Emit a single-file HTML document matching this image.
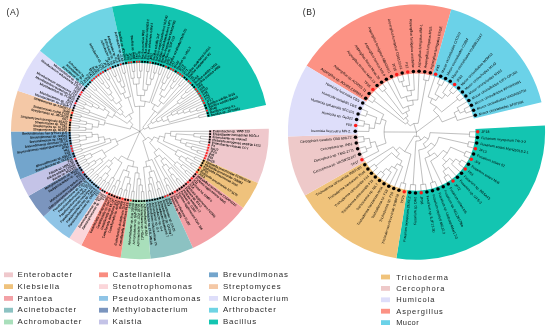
<!DOCTYPE html>
<html><head><meta charset="utf-8"><title>Figure</title>
<style>html,body{margin:0;padding:0;background:#fff;}svg{display:block;font-family:"Liberation Sans", sans-serif;will-change:transform;}</style></head><body>
<svg width="550" height="332" viewBox="0 0 550 332">
<rect width="550" height="332" fill="#fff"/>
<g transform="translate(-1.26 0) scale(1.009 1)">
<path d="M267.67 128.72A127.8 127.8 0 0 1 256.83 182.97L202.48 159A68.4 68.4 0 0 0 208.28 129.97Z" fill="#efc8cc"/>
<path d="M256.83 182.97A127.8 127.8 0 0 1 242.23 207.96L194.67 172.37A68.4 68.4 0 0 0 202.48 159Z" fill="#efc27c"/>
<path d="M242.23 207.96A127.8 127.8 0 0 1 192.49 247.88L168.05 193.74A68.4 68.4 0 0 0 194.67 172.37Z" fill="#f3a1a6"/>
<path d="M192.49 247.88A127.8 127.8 0 0 1 150.37 258.77L145.5 199.57A68.4 68.4 0 0 0 168.05 193.74Z" fill="#8cc2c2"/>
<path d="M150.37 258.77A127.8 127.8 0 0 1 120.79 257.76L129.67 199.03A68.4 68.4 0 0 0 145.5 199.57Z" fill="#a9dfbb"/>
<path d="M120.79 257.76A127.8 127.8 0 0 1 81.88 245.27L108.85 192.34A68.4 68.4 0 0 0 129.67 199.03Z" fill="#f98c80"/>
<path d="M81.88 245.27A127.8 127.8 0 0 1 69.92 238.34L102.45 188.63A68.4 68.4 0 0 0 108.85 192.34Z" fill="#fbd6da"/>
<path d="M69.92 238.34A127.8 127.8 0 0 1 44.48 216.42L88.83 176.9A68.4 68.4 0 0 0 102.45 188.63Z" fill="#8fc4e6"/>
<path d="M44.48 216.42A127.8 127.8 0 0 1 29.56 195.88L80.84 165.91A68.4 68.4 0 0 0 88.83 176.9Z" fill="#7b95be"/>
<path d="M29.56 195.88A127.8 127.8 0 0 1 21.41 179.27L76.48 157.02A68.4 68.4 0 0 0 80.84 165.91Z" fill="#c4c3e7"/>
<path d="M21.41 179.27A127.8 127.8 0 0 1 12.1 131.4L71.5 131.4A68.4 68.4 0 0 0 76.48 157.02Z" fill="#73a5cc"/>
<path d="M12.1 131.4A127.8 127.8 0 0 1 18.78 90.64L75.07 109.58A68.4 68.4 0 0 0 71.5 131.4Z" fill="#f4c8a6"/>
<path d="M18.78 90.64A127.8 127.8 0 0 1 40.86 50.63L86.89 88.17A68.4 68.4 0 0 0 75.07 109.58Z" fill="#dedefa"/>
<path d="M40.86 50.63A127.8 127.8 0 0 1 112.24 6.63L125.1 64.62A68.4 68.4 0 0 0 86.89 88.17Z" fill="#6fd4e4"/>
<path d="M112.24 6.63A127.8 127.8 0 0 1 264.95 105.05L206.83 117.3A68.4 68.4 0 0 0 125.1 64.62Z" fill="#13c5b1"/>
<path d="M139.9 131.4L145.67 139.38M147.93 137.1A9.85 9.85 0 0 1 142.79 140.82M147.93 137.1L152.04 140.01M153.74 136.86A14.88 14.88 0 0 1 149.63 142.66M153.74 136.86L158.5 138.74M159.35 136.04A20 20 0 0 1 157.28 141.29M159.35 136.04L164.43 137.25M165.05 133.23A25.21 25.21 0 0 1 163.17 141.12M165.05 133.23L170.36 133.62M170.44 131.37A30.54 30.54 0 0 1 170.12 135.86M170.44 131.37L208.5 131.32M170.12 135.86L175.52 136.65M175.82 133.86A36.01 36.01 0 0 1 175 139.42M175.82 133.86L193.42 135.06M193.5 133.47A53.64 53.64 0 0 1 193.28 136.65M193.5 133.47L208.45 134.04M193.28 136.65L199.91 137.3M200.02 136.11A60.3 60.3 0 0 1 199.78 138.49M200.02 136.11L208.29 136.76M199.78 138.49L208.02 139.47M175 139.42L180.49 140.67M180.88 138.75A41.64 41.64 0 0 1 180.01 142.57M180.88 138.75L199.25 142.04M199.45 140.86A60.3 60.3 0 0 1 199.03 143.22M199.45 140.86L207.65 142.16M199.03 143.22L207.17 144.84M180.01 142.57L185.65 144.14M186.06 142.54A47.49 47.49 0 0 1 185.18 145.72M186.06 142.54L206.58 147.5M185.18 145.72L191.04 147.57M191.5 146.05A53.64 53.64 0 0 1 190.54 149.09M191.5 146.05L205.89 150.13M190.54 149.09L196.83 151.29M197.21 150.15A60.3 60.3 0 0 1 196.42 152.41M197.21 150.15L205.1 152.73M196.42 152.41L204.2 155.3M163.17 141.12L203.2 157.83M157.28 141.29L176.09 151.98M177.33 149.63A41.64 41.64 0 0 1 174.71 154.25M177.33 149.63L194.11 157.8M194.6 156.77A60.3 60.3 0 0 1 193.6 158.82M194.6 156.77L202.13 160.26M193.6 158.82L201 162.6M174.71 154.25L179.6 157.46M180.67 155.74A47.49 47.49 0 0 1 178.45 159.12M180.67 155.74L185.96 158.9M186.72 157.58A53.64 53.64 0 0 1 185.16 160.2M186.72 157.58L199.77 164.88M185.16 160.2L190.78 163.77M191.38 162.8A60.3 60.3 0 0 1 190.16 164.73M191.38 162.8L198.46 167.12M190.16 164.73L197.07 169.31M178.45 159.12L195.6 171.45M149.63 142.66L156.38 150.48M158.61 148.3A25.21 25.21 0 0 1 153.89 152.37M158.61 148.3L175.14 163.22M176.5 161.66A47.49 47.49 0 0 1 173.72 164.73M176.5 161.66L181.24 165.58M182.22 164.36A53.64 53.64 0 0 1 180.23 166.77M182.22 164.36L194.02 173.55M180.23 166.77L185.24 171.16M186 170.27A60.3 60.3 0 0 1 184.46 172.03M186 170.27L192.35 175.62M184.46 172.03L190.59 177.62M173.72 164.73L188.76 179.55M153.89 152.37L156.85 156.81M159.22 155.06A30.54 30.54 0 0 1 154.33 158.32M159.22 155.06L162.67 159.29M164.55 157.65A36.01 36.01 0 0 1 160.69 160.79M164.55 157.65L186.86 181.41M160.69 160.79L163.95 165.39M165.8 164A41.64 41.64 0 0 1 162.01 166.68M165.8 164L169.44 168.58M171.04 167.25A47.49 47.49 0 0 1 167.79 169.83M171.04 167.25L184.88 183.19M167.79 169.83L171.41 174.81M172.66 173.88A53.64 53.64 0 0 1 170.13 175.71M172.66 173.88L176.72 179.15M177.64 178.43A60.3 60.3 0 0 1 175.79 179.86M177.64 178.43L182.84 184.9M175.79 179.86L180.73 186.53M170.13 175.71L178.56 188.07M162.01 166.68L176.33 189.52M154.33 158.32L165.24 178.68M166.61 177.92A53.64 53.64 0 0 1 163.85 179.4M166.61 177.92L174.05 190.89M163.85 179.4L166.83 185.35M167.87 184.82A60.3 60.3 0 0 1 165.78 185.87M167.87 184.82L171.72 192.17M165.78 185.87L169.34 193.36M142.79 140.82L148.86 160.6M151.94 159.47A30.54 30.54 0 0 1 145.67 161.39M151.94 159.47L166.94 194.45M145.67 161.39L146.7 166.76M149.82 166.01A36.01 36.01 0 0 1 143.53 167.22M149.82 166.01L151.37 171.42M153.73 170.67A41.64 41.64 0 0 1 148.98 172.03M153.73 170.67L157.72 182M159.15 181.47A53.64 53.64 0 0 1 156.27 182.48M159.15 181.47L164.52 195.43M156.27 182.48L158.3 188.83M159.39 188.47A60.3 60.3 0 0 1 157.21 189.16M159.39 188.47L162.07 196.32M157.21 189.16L159.59 197.11M148.98 172.03L150.25 177.74M151.79 177.37A47.49 47.49 0 0 1 148.71 178.06M151.79 177.37L157.08 197.81M148.71 178.06L149.85 184.11M151.35 183.81A53.64 53.64 0 0 1 148.34 184.37M151.35 183.81L154.54 198.42M148.34 184.37L149.39 190.95M150.52 190.76A60.3 60.3 0 0 1 148.26 191.12M150.52 190.76L151.98 198.93M148.26 191.12L149.41 199.34M143.53 167.22L146.82 199.65M139.9 131.4L127.46 159.29M133.93 161.35A30.54 30.54 0 0 1 121.61 155.86M133.93 161.35L132.86 166.71M137.54 167.33A36.01 36.01 0 0 1 128.29 165.48M137.54 167.33L137.18 172.95M139.09 173.03A41.64 41.64 0 0 1 135.27 172.78M139.09 173.03L138.97 178.88M140.58 178.88A47.49 47.49 0 0 1 137.37 178.82M140.58 178.88L140.67 185.04M142.22 184.99A53.64 53.64 0 0 1 139.11 185.04M142.22 184.99L142.51 191.64M143.68 191.58A60.3 60.3 0 0 1 141.35 191.68M143.68 191.58L144.2 199.87M141.35 191.68L141.55 199.98M139.11 185.04L138.89 199.99M137.37 178.82L136.24 199.9M135.27 172.78L133.2 191.33M134.36 191.45A60.3 60.3 0 0 1 132.04 191.19M134.36 191.45L133.59 199.71M132.04 191.19L130.96 199.41M128.29 165.48L126.48 170.81M129.38 171.69A41.64 41.64 0 0 1 123.65 169.73M129.38 171.69L127.9 177.34M130.45 177.94A47.49 47.49 0 0 1 125.38 176.61M130.45 177.94L129.23 183.97M130.82 184.27A53.64 53.64 0 0 1 127.65 183.62M130.82 184.27L128.28 199.01M127.65 183.62L126.13 190.11M127.31 190.37A60.3 60.3 0 0 1 124.95 189.82M127.31 190.37L125.58 198.49M124.95 189.82L122.9 197.86M125.38 176.61L121.47 188.81M122.62 189.17A60.3 60.3 0 0 1 120.32 188.43M122.62 189.17L120.24 197.12M120.32 188.43L117.62 196.28M123.65 169.73L118.96 180.79M120.46 181.39A53.64 53.64 0 0 1 117.49 180.13M120.46 181.39L115.04 195.34M117.49 180.13L114.7 186.18M115.81 186.68A60.3 60.3 0 0 1 113.61 185.67M115.81 186.68L112.49 194.29M113.61 185.67L109.99 193.14M121.61 155.86L118.34 160.24M122.12 162.71A36.01 36.01 0 0 1 114.89 157.31M122.12 162.71L113.42 178.05M114.69 178.75A53.64 53.64 0 0 1 112.17 177.32M114.69 178.75L107.66 191.95M112.17 177.32L108.72 183.02M109.66 183.57A60.3 60.3 0 0 1 107.8 182.45M109.66 183.57L105.5 190.75M107.8 182.45L103.38 189.47M114.89 157.31L110.98 161.36M112.72 162.94A41.64 41.64 0 0 1 109.34 159.68M112.72 162.94L108.9 167.37M110.98 169.07A47.49 47.49 0 0 1 106.92 165.57M110.98 169.07L107.23 173.95M108.86 175.15A53.64 53.64 0 0 1 105.66 172.69M108.86 175.15L105.01 180.58M105.94 181.23A60.3 60.3 0 0 1 104.09 179.91M105.94 181.23L101.26 188.08M104.09 179.91L99.16 186.59M105.66 172.69L101.4 177.81M102.29 178.53A60.3 60.3 0 0 1 100.54 177.08M102.29 178.53L97.11 185.02M100.54 177.08L95.12 183.37M106.92 165.57L98.02 174.79M98.85 175.57A60.3 60.3 0 0 1 97.21 173.99M98.85 175.57L93.2 181.65M97.21 173.99L91.34 179.85M109.34 159.68L89.55 177.99M139.9 131.4L116.91 141.75M118.4 144.58A25.21 25.21 0 0 1 115.79 138.76M118.4 144.58L104.4 153.16M106.58 156.37A41.64 41.64 0 0 1 102.52 149.75M106.58 156.37L101.9 159.88M103.22 161.55A47.49 47.49 0 0 1 100.67 158.15M103.22 161.55L93.32 169.69M94.09 170.61A60.3 60.3 0 0 1 92.56 168.76M94.09 170.61L87.78 176.01M92.56 168.76L86.05 173.9M100.67 158.15L95.58 161.62M96.5 162.93A53.64 53.64 0 0 1 94.7 160.28M96.5 162.93L84.4 171.72M94.7 160.28L89.09 163.87M89.74 164.88A60.3 60.3 0 0 1 88.45 162.85M89.74 164.88L82.84 169.48M88.45 162.85L81.37 167.18M102.52 149.75L91.75 155.04M92.64 156.77A53.64 53.64 0 0 1 90.92 153.28M92.64 156.77L86.77 159.92M87.29 160.88A60.3 60.3 0 0 1 86.26 158.95M87.29 160.88L80.05 164.93M86.26 158.95L78.88 162.74M90.92 153.28L84.84 156M85.3 156.99A60.3 60.3 0 0 1 84.41 155M85.3 156.99L77.78 160.51M84.41 155L76.77 158.25M115.79 138.76L110.69 140.32M111.37 142.3A30.54 30.54 0 0 1 110.15 138.3M111.37 142.3L75.81 155.87M110.15 138.3L104.83 139.54M105.58 142.29A36.01 36.01 0 0 1 104.29 136.74M105.58 142.29L82.42 149.63M82.78 150.73A60.3 60.3 0 0 1 82.08 148.53M82.78 150.73L74.92 153.39M82.08 148.53L74.12 150.88M104.29 136.74L98.72 137.57M99.36 140.91A41.64 41.64 0 0 1 98.36 134.2M99.36 140.91L81.19 145.17M81.47 146.29A60.3 60.3 0 0 1 80.94 144.04M81.47 146.29L73.43 148.34M80.94 144.04L72.82 145.78M98.36 134.2L92.52 134.59M92.73 136.86A47.49 47.49 0 0 1 92.42 132.31M92.73 136.86L86.61 137.57M86.89 139.61A53.64 53.64 0 0 1 86.42 135.52M86.89 139.61L80.31 140.63M80.5 141.77A60.3 60.3 0 0 1 80.14 139.48M80.5 141.77L72.32 143.19M80.14 139.48L71.92 140.59M86.42 135.52L79.78 136.03M79.88 137.18A60.3 60.3 0 0 1 79.7 134.87M79.88 137.18L71.62 137.98M79.7 134.87L71.41 135.35M92.42 132.31L71.31 132.72M139.9 131.4L131.33 126.55M130.34 129.05A9.85 9.85 0 0 1 132.95 124.42M130.34 129.05L104.94 122.8M104.45 125.1A36.01 36.01 0 0 1 105.57 120.53M104.45 125.1L98.91 124.12M98.47 127.28A41.64 41.64 0 0 1 99.58 121M98.47 127.28L92.65 126.7M92.46 129.26A47.49 47.49 0 0 1 92.97 124.15M92.46 129.26L86.31 128.98M86.27 130.43A53.64 53.64 0 0 1 86.4 127.53M86.27 130.43L71.31 130.16M86.4 127.53L79.76 127.05M79.69 128.14A60.3 60.3 0 0 1 79.84 125.97M79.69 128.14L71.4 127.69M79.84 125.97L71.58 125.22M92.97 124.15L86.89 123.21M86.69 124.65A53.64 53.64 0 0 1 87.13 121.78M86.69 124.65L71.85 122.76M87.13 121.78L80.58 120.58M80.39 121.66A60.3 60.3 0 0 1 80.78 119.52M80.39 121.66L72.2 120.31M80.78 119.52L72.65 117.88M99.58 121L81.51 116.34M81.25 117.39A60.3 60.3 0 0 1 81.79 115.29M81.25 117.39L73.18 115.46M81.79 115.29L73.79 113.07M105.57 120.53L74.5 110.7M132.95 124.42L129.4 120.85M127.35 123.4A14.88 14.88 0 0 1 131.96 118.81M127.35 123.4L114.15 114.97M112.66 117.58A30.54 30.54 0 0 1 115.89 112.53M112.66 117.58L107.79 115.11M106.33 118.39A36.01 36.01 0 0 1 109.58 111.98M106.33 118.39L89.88 112.02M89.38 113.38A53.64 53.64 0 0 1 90.42 110.68M89.38 113.38L75.29 108.35M90.42 110.68L84.28 108.11M83.87 109.11A60.3 60.3 0 0 1 84.71 107.11M83.87 109.11L76.16 106.05M84.71 107.11L77.11 103.77M109.58 111.98L104.84 108.95M103.91 110.46A41.64 41.64 0 0 1 105.83 107.47M103.91 110.46L98.85 107.52M98.12 108.83A47.49 47.49 0 0 1 99.63 106.24M98.12 108.83L92.71 105.9M92.04 107.18A53.64 53.64 0 0 1 93.41 104.64M92.04 107.18L86.1 104.17M85.61 105.15A60.3 60.3 0 0 1 86.59 103.21M85.61 105.15L78.14 101.53M86.59 103.21L79.26 99.33M93.41 104.64L80.45 97.17M99.63 106.24L81.72 95.06M105.83 107.47L90.55 96.74M89.94 97.64A60.3 60.3 0 0 1 91.18 95.86M89.94 97.64L83.06 92.99M91.18 95.86L84.48 90.97M115.89 112.53L85.97 89.01M131.96 118.81L129.23 114.48M125.69 117.33A20 20 0 0 1 133.33 112.51M125.69 117.33L121.98 113.66M120.68 115.08A25.21 25.21 0 0 1 123.39 112.34M120.68 115.08L87.6 87.01M123.39 112.34L119.9 108.32M117.82 110.3A30.54 30.54 0 0 1 122.15 106.54M117.82 110.3L96.31 89.73M95.5 90.6A60.3 60.3 0 0 1 97.14 88.89M95.5 90.6L89.39 84.98M97.14 88.89L91.25 83.03M122.15 106.54L118.98 102.1M116.51 104.03A36.01 36.01 0 0 1 121.61 100.38M116.51 104.03L112.85 99.75M111.55 100.91A41.64 41.64 0 0 1 114.19 98.65M111.55 100.91L93.19 81.16M114.19 98.65L110.58 94.05M108.96 95.38A47.49 47.49 0 0 1 112.26 92.79M108.96 95.38L95.2 79.36M112.26 92.79L108.68 87.78M107.41 88.72A53.64 53.64 0 0 1 109.98 86.88M107.41 88.72L103.37 83.42M102.44 84.15A60.3 60.3 0 0 1 104.32 82.71M102.44 84.15L97.28 77.65M104.32 82.71L99.43 76.01M109.98 86.88L101.64 74.46M121.61 100.38L109.27 79.46M108.26 80.07A60.3 60.3 0 0 1 110.3 78.86M108.26 80.07L103.9 73M110.3 78.86L106.23 71.63M133.33 112.51L128.07 97.39M125.47 98.41A36.01 36.01 0 0 1 130.73 96.58M125.47 98.41L123.21 93.25M120.9 94.35A41.64 41.64 0 0 1 125.59 92.3M120.9 94.35L108.6 70.36M125.59 92.3L123.58 86.81M122.05 87.4A47.49 47.49 0 0 1 125.12 86.27M122.05 87.4L119.74 81.69M118.28 82.31A53.64 53.64 0 0 1 121.22 81.12M118.28 82.31L115.6 76.21M114.52 76.7A60.3 60.3 0 0 1 116.69 75.74M114.52 76.7L111.03 69.17M116.69 75.74L113.5 68.09M121.22 81.12L116 67.1M125.12 86.27L118.55 66.21M130.73 96.58L124.54 73.09M123.4 73.4A60.3 60.3 0 0 1 125.69 72.8M123.4 73.4L121.13 65.42M125.69 72.8L123.74 64.73M139.9 131.4L139.57 106.19M134.92 106.68A25.21 25.21 0 0 1 144.24 106.56M134.92 106.68L126.35 64.15M144.24 106.56L145.16 101.31M140.64 100.87A30.54 30.54 0 0 1 149.56 102.43M140.64 100.87L140.77 95.4M137.25 95.49A36.01 36.01 0 0 1 144.27 95.66M137.25 95.49L136.41 84.04M133.68 84.32A47.49 47.49 0 0 1 139.16 83.92M133.68 84.32L132.87 78.22M131.34 78.45A53.64 53.64 0 0 1 134.41 78.04M131.34 78.45L128.95 63.68M134.41 78.04L133.73 71.42M132.58 71.55A60.3 60.3 0 0 1 134.89 71.31M132.58 71.55L131.57 63.31M134.89 71.31L134.2 63.04M139.16 83.92L139.06 77.77M137.51 77.81A53.64 53.64 0 0 1 140.61 77.76M137.51 77.81L136.84 62.87M140.61 77.76L140.7 71.1M139.54 71.1A60.3 60.3 0 0 1 141.86 71.13M139.54 71.1L139.49 62.8M141.86 71.13L142.13 62.84M144.27 95.66L144.96 90.07M142.86 89.87A41.64 41.64 0 0 1 147.04 90.38M142.86 89.87L144.77 62.97M147.04 90.38L148.04 84.62M146.01 84.31A47.49 47.49 0 0 1 150.06 85.01M146.01 84.31L147.65 71.6M146.5 71.46A60.3 60.3 0 0 1 148.81 71.76M146.5 71.46L147.41 63.21M148.81 71.76L150.03 63.55M150.06 85.01L151.38 79M149.86 78.69A53.64 53.64 0 0 1 152.89 79.36M149.86 78.69L152.64 63.99M152.89 79.36L154.51 72.89M153.37 72.62A60.3 60.3 0 0 1 155.63 73.19M153.37 72.62L155.23 64.53M155.63 73.19L157.8 65.18M149.56 102.43L158.97 74.19M157.86 73.84A60.3 60.3 0 0 1 160.07 74.57M157.86 73.84L160.34 65.91M160.07 74.57L162.85 66.75M139.9 131.4L143.65 128.26M142.8 127.46A4.89 4.89 0 0 1 144.29 129.24M142.8 127.46L154.87 111.11M152.11 109.34A25.21 25.21 0 0 1 157.37 113.22M152.11 109.34L154.69 104.68M151.22 103.03A30.54 30.54 0 0 1 157.93 106.75M151.22 103.03L165.32 67.68M157.93 106.75L161.16 102.34M158.89 100.81A36.01 36.01 0 0 1 163.3 104.04M158.89 100.81L161.86 96.03M159.51 94.67A41.64 41.64 0 0 1 164.12 97.53M159.51 94.67L162.27 89.51M160.43 88.58A47.49 47.49 0 0 1 164.07 90.52M160.43 88.58L163.09 83.03M161.68 82.38A53.64 53.64 0 0 1 164.48 83.72M161.68 82.38L167.76 68.71M164.48 83.72L167.53 77.8M166.5 77.28A60.3 60.3 0 0 1 168.56 78.35M166.5 77.28L170.16 69.83M168.56 78.35L172.51 71.04M164.07 90.52L174.81 72.35M164.12 97.53L171.1 87.76M169.82 86.88A53.64 53.64 0 0 1 172.35 88.68M169.82 86.88L173.54 81.35M172.57 80.71A60.3 60.3 0 0 1 174.5 82.01M172.57 80.71L177.06 73.74M174.5 82.01L179.26 75.21M172.35 88.68L181.39 76.77M163.3 104.04L179.09 85.57M178.2 84.82A60.3 60.3 0 0 1 179.97 86.33M178.2 84.82L183.47 78.41M179.97 86.33L185.48 80.13M157.37 113.22L187.42 81.93M144.29 129.24L148.74 127.06M147.64 125.31A9.85 9.85 0 0 1 149.45 129M147.64 125.31L151.59 122.19M150.62 121.07A14.88 14.88 0 0 1 152.45 123.41M150.62 121.07L189.3 83.8M152.45 123.41L156.77 120.66M155.86 119.35A20 20 0 0 1 157.57 122.03M155.86 119.35L177.81 102.8M176.82 101.54A47.49 47.49 0 0 1 178.75 104.09M176.82 101.54L181.61 97.66M180.61 96.47A53.64 53.64 0 0 1 182.56 98.88M180.61 96.47L185.67 92.14M184.9 91.26A60.3 60.3 0 0 1 186.42 93.03M184.9 91.26L191.09 85.74M186.42 93.03L192.82 87.74M182.56 98.88L194.46 89.82M178.75 104.09L196.02 91.95M157.57 122.03L162.18 119.59M161.07 117.71A25.21 25.21 0 0 1 163.11 121.56M161.07 117.71L197.5 94.15M163.11 121.56L168.02 119.47M166.73 116.81A30.54 30.54 0 0 1 169.04 122.25M166.73 116.81L171.53 114.2M170.86 113.03A36.01 36.01 0 0 1 172.15 115.39M170.86 113.03L198.9 96.39M172.15 115.39L177.19 112.89M176.5 111.55A41.64 41.64 0 0 1 177.84 114.25M176.5 111.55L200.2 98.7M177.84 114.25L183.17 111.84M182.48 110.39A47.49 47.49 0 0 1 183.8 113.31M182.48 110.39L201.42 101.04M183.8 113.31L189.5 110.96M188.88 109.54A53.64 53.64 0 0 1 190.07 112.4M188.88 109.54L202.54 103.44M190.07 112.4L196.29 110.05M195.87 108.96A60.3 60.3 0 0 1 196.7 111.14M195.87 108.96L203.57 105.88M196.7 111.14L204.51 108.35M169.04 122.25L205.35 110.86M149.45 129L198.38 116.7M198.09 115.57A60.3 60.3 0 0 1 198.65 117.83M198.09 115.57L206.1 113.4M198.65 117.83L206.74 115.96" fill="none" stroke="#3a3a3a" stroke-width="0.3"/>
<g fill="#000"><rect x="208.67" y="130.4" width="1.85" height="1.85" transform="rotate(-0.06 209.6 131.32)"/><rect x="208.62" y="133.16" width="1.85" height="1.85" transform="rotate(2.21 209.55 134.09)"/><rect x="208.46" y="135.92" width="1.85" height="1.85" transform="rotate(4.48 209.39 136.85)"/><rect x="208.19" y="138.67" width="1.85" height="1.85" transform="rotate(6.75 209.12 139.6)"/><rect x="207.81" y="141.41" width="1.85" height="1.85" transform="rotate(9.03 208.74 142.34)"/><rect x="202.2" y="159.8" width="1.85" height="1.85" transform="rotate(24.88 203.13 160.73)"/><rect x="201.05" y="162.17" width="1.85" height="1.85" transform="rotate(27.05 201.98 163.1)"/><rect x="199.81" y="164.5" width="1.85" height="1.85" transform="rotate(29.22 200.73 165.42)"/><rect x="197.06" y="169" width="1.85" height="1.85" transform="rotate(33.55 197.99 169.92)"/><rect x="193.97" y="173.3" width="1.85" height="1.85" transform="rotate(37.91 194.89 174.23)"/><rect x="192.26" y="175.4" width="1.85" height="1.85" transform="rotate(40.13 193.19 176.33)"/><rect x="188.62" y="179.4" width="1.85" height="1.85" transform="rotate(44.58 189.54 180.32)"/><rect x="184.68" y="183.1" width="1.85" height="1.85" transform="rotate(49.03 185.6 184.02)"/><rect x="182.6" y="184.83" width="1.85" height="1.85" transform="rotate(51.25 183.53 185.76)"/><rect x="180.46" y="186.48" width="1.85" height="1.85" transform="rotate(53.47 181.39 187.41)"/><rect x="178.26" y="188.05" width="1.85" height="1.85" transform="rotate(55.7 179.18 188.98)"/><rect x="175.99" y="189.53" width="1.85" height="1.85" transform="rotate(57.92 176.92 190.46)"/><rect x="171.3" y="192.22" width="1.85" height="1.85" transform="rotate(62.37 172.23 193.15)"/><rect x="168.88" y="193.43" width="1.85" height="1.85" transform="rotate(64.59 169.81 194.36)"/><rect x="161.5" y="196.43" width="1.85" height="1.85" transform="rotate(71.14 162.43 197.36)"/><rect x="158.98" y="197.24" width="1.85" height="1.85" transform="rotate(73.32 159.9 198.17)"/><rect x="156.43" y="197.95" width="1.85" height="1.85" transform="rotate(75.5 157.35 198.88)"/><rect x="153.85" y="198.57" width="1.85" height="1.85" transform="rotate(77.68 154.77 199.49)"/><rect x="151.25" y="199.09" width="1.85" height="1.85" transform="rotate(79.86 152.18 200.01)"/><rect x="148.64" y="199.5" width="1.85" height="1.85" transform="rotate(82.03 149.56 200.43)"/><rect x="146.01" y="199.82" width="1.85" height="1.85" transform="rotate(84.21 146.93 200.74)"/><rect x="143.34" y="200.04" width="1.85" height="1.85" transform="rotate(86.41 144.27 200.96)"/><rect x="140.65" y="200.15" width="1.85" height="1.85" transform="rotate(88.62 141.57 201.08)"/><rect x="137.95" y="200.17" width="1.85" height="1.85" transform="rotate(90.84 138.88 201.09)"/><rect x="135.26" y="200.08" width="1.85" height="1.85" transform="rotate(93.06 136.18 201)"/><rect x="132.57" y="199.88" width="1.85" height="1.85" transform="rotate(95.27 133.49 200.8)"/><rect x="127.17" y="199.17" width="1.85" height="1.85" transform="rotate(99.75 128.1 200.09)"/><rect x="124.42" y="198.64" width="1.85" height="1.85" transform="rotate(102.05 125.35 199.56)"/><rect x="119" y="197.25" width="1.85" height="1.85" transform="rotate(106.65 119.93 198.18)"/><rect x="116.34" y="196.4" width="1.85" height="1.85" transform="rotate(108.95 117.27 197.32)"/><rect x="113.71" y="195.44" width="1.85" height="1.85" transform="rotate(111.25 114.64 196.36)"/><rect x="111.13" y="194.37" width="1.85" height="1.85" transform="rotate(113.55 112.05 195.29)"/><rect x="108.58" y="193.2" width="1.85" height="1.85" transform="rotate(115.85 109.51 194.13)"/><rect x="104.02" y="190.78" width="1.85" height="1.85" transform="rotate(120.1 104.94 191.7)"/><rect x="101.87" y="189.48" width="1.85" height="1.85" transform="rotate(122.17 102.79 190.4)"/><rect x="97.58" y="186.55" width="1.85" height="1.85" transform="rotate(126.44 98.5 187.48)"/><rect x="95.5" y="184.95" width="1.85" height="1.85" transform="rotate(128.59 96.42 185.88)"/><rect x="93.48" y="183.28" width="1.85" height="1.85" transform="rotate(130.75 94.4 184.2)"/><rect x="91.52" y="181.53" width="1.85" height="1.85" transform="rotate(132.91 92.45 182.45)"/><rect x="89.63" y="179.71" width="1.85" height="1.85" transform="rotate(135.06 90.56 180.63)"/><rect x="87.82" y="177.81" width="1.85" height="1.85" transform="rotate(137.22 88.74 178.74)"/><rect x="86.02" y="175.8" width="1.85" height="1.85" transform="rotate(139.44 86.95 176.72)"/><rect x="84.26" y="173.65" width="1.85" height="1.85" transform="rotate(141.72 85.19 174.58)"/><rect x="81" y="169.17" width="1.85" height="1.85" transform="rotate(146.28 81.93 170.09)"/><rect x="79.51" y="166.83" width="1.85" height="1.85" transform="rotate(148.56 80.43 167.76)"/><rect x="78.17" y="164.55" width="1.85" height="1.85" transform="rotate(150.74 79.09 165.47)"/><rect x="76.98" y="162.32" width="1.85" height="1.85" transform="rotate(152.81 77.9 163.25)"/><rect x="75.86" y="160.06" width="1.85" height="1.85" transform="rotate(154.89 76.79 160.98)"/><rect x="73.86" y="155.34" width="1.85" height="1.85" transform="rotate(159.1 74.79 156.26)"/><rect x="72.95" y="152.82" width="1.85" height="1.85" transform="rotate(161.3 73.88 153.75)"/><rect x="70.31" y="142.46" width="1.85" height="1.85" transform="rotate(170.1 71.24 143.38)"/><rect x="69.9" y="139.81" width="1.85" height="1.85" transform="rotate(172.3 70.83 140.74)"/><rect x="69.6" y="137.16" width="1.85" height="1.85" transform="rotate(174.5 70.52 138.08)"/><rect x="69.39" y="134.49" width="1.85" height="1.85" transform="rotate(176.7 70.32 135.41)"/><rect x="69.29" y="131.81" width="1.85" height="1.85" transform="rotate(178.9 70.21 132.74)"/><rect x="69.29" y="129.22" width="1.85" height="1.85" transform="rotate(181.03 70.21 130.14)"/><rect x="69.38" y="126.71" width="1.85" height="1.85" transform="rotate(183.1 70.3 127.63)"/><rect x="69.56" y="124.2" width="1.85" height="1.85" transform="rotate(185.17 70.48 125.12)"/><rect x="69.83" y="121.7" width="1.85" height="1.85" transform="rotate(187.23 70.75 122.62)"/><rect x="70.64" y="116.74" width="1.85" height="1.85" transform="rotate(191.37 71.57 117.66)"/><rect x="71.18" y="114.28" width="1.85" height="1.85" transform="rotate(193.43 72.11 115.21)"/><rect x="72.53" y="109.44" width="1.85" height="1.85" transform="rotate(197.57 73.45 110.36)"/><rect x="73.33" y="107.06" width="1.85" height="1.85" transform="rotate(199.63 74.25 107.98)"/><rect x="74.21" y="104.71" width="1.85" height="1.85" transform="rotate(201.69 75.13 105.64)"/><rect x="76.23" y="100.13" width="1.85" height="1.85" transform="rotate(205.81 77.15 101.05)"/><rect x="77.36" y="97.89" width="1.85" height="1.85" transform="rotate(207.87 78.28 98.82)"/><rect x="78.57" y="95.7" width="1.85" height="1.85" transform="rotate(209.93 79.5 96.62)"/><rect x="82.67" y="89.4" width="1.85" height="1.85" transform="rotate(216.11 83.59 90.32)"/><rect x="84.18" y="87.4" width="1.85" height="1.85" transform="rotate(218.17 85.1 88.33)"/><rect x="85.84" y="85.37" width="1.85" height="1.85" transform="rotate(220.33 86.76 86.29)"/><rect x="87.65" y="83.32" width="1.85" height="1.85" transform="rotate(222.58 88.58 84.24)"/><rect x="89.55" y="81.33" width="1.85" height="1.85" transform="rotate(224.83 90.47 82.26)"/><rect x="104.76" y="69.75" width="1.85" height="1.85" transform="rotate(240.6 105.69 70.67)"/><rect x="112.15" y="66.15" width="1.85" height="1.85" transform="rotate(247.36 113.07 67.07)"/><rect x="114.7" y="65.14" width="1.85" height="1.85" transform="rotate(249.61 115.62 66.07)"/><rect x="117.28" y="64.24" width="1.85" height="1.85" transform="rotate(251.87 118.21 65.16)"/><rect x="122.55" y="62.74" width="1.85" height="1.85" transform="rotate(256.37 123.48 63.66)"/><rect x="125.2" y="62.15" width="1.85" height="1.85" transform="rotate(258.6 126.13 63.07)"/><rect x="133.18" y="61.02" width="1.85" height="1.85" transform="rotate(265.23 134.11 61.94)"/><rect x="141.24" y="60.81" width="1.85" height="1.85" transform="rotate(271.86 142.17 61.74)"/><rect x="143.93" y="60.95" width="1.85" height="1.85" transform="rotate(274.07 144.85 61.88)"/><rect x="146.6" y="61.19" width="1.85" height="1.85" transform="rotate(276.28 147.53 62.12)"/><rect x="151.92" y="61.99" width="1.85" height="1.85" transform="rotate(280.7 152.84 62.91)"/><rect x="154.55" y="62.54" width="1.85" height="1.85" transform="rotate(282.91 155.47 63.46)"/><rect x="157.16" y="63.19" width="1.85" height="1.85" transform="rotate(285.12 158.08 64.11)"/><rect x="159.74" y="63.94" width="1.85" height="1.85" transform="rotate(287.33 160.66 64.86)"/><rect x="162.29" y="64.79" width="1.85" height="1.85" transform="rotate(289.54 163.21 65.71)"/><rect x="167.28" y="66.78" width="1.85" height="1.85" transform="rotate(293.96 168.21 67.71)"/><rect x="174.44" y="70.48" width="1.85" height="1.85" transform="rotate(300.59 175.37 71.4)"/><rect x="183.24" y="76.64" width="1.85" height="1.85" transform="rotate(309.43 184.17 77.56)"/><rect x="185.29" y="78.39" width="1.85" height="1.85" transform="rotate(311.64 186.21 79.31)"/><rect x="190.99" y="84.08" width="1.85" height="1.85" transform="rotate(318.27 191.92 85)"/><rect x="192.74" y="86.12" width="1.85" height="1.85" transform="rotate(320.48 193.67 87.04)"/><rect x="203.67" y="104.54" width="1.85" height="1.85" transform="rotate(338.16 204.6 105.47)"/><rect x="204.62" y="107.05" width="1.85" height="1.85" transform="rotate(340.37 205.55 107.98)"/><rect x="206.23" y="112.18" width="1.85" height="1.85" transform="rotate(344.79 207.16 113.11)"/><rect x="206.89" y="114.79" width="1.85" height="1.85" transform="rotate(347 207.81 115.72)"/></g>
<g fill="#ff1a1a"><rect x="207.32" y="144.13" width="1.85" height="1.85" transform="rotate(11.3 208.25 145.06)"/><rect x="206.73" y="146.83" width="1.85" height="1.85" transform="rotate(13.57 207.65 147.76)"/><rect x="206.03" y="149.51" width="1.85" height="1.85" transform="rotate(15.85 206.95 150.43)"/><rect x="205.22" y="152.15" width="1.85" height="1.85" transform="rotate(18.12 206.14 153.08)"/><rect x="204.31" y="154.76" width="1.85" height="1.85" transform="rotate(20.39 205.23 155.69)"/><rect x="203.29" y="157.33" width="1.85" height="1.85" transform="rotate(22.66 204.22 158.26)"/><rect x="198.48" y="166.77" width="1.85" height="1.85" transform="rotate(31.38 199.4 167.7)"/><rect x="195.57" y="171.16" width="1.85" height="1.85" transform="rotate(35.72 196.49 172.09)"/><rect x="190.48" y="177.44" width="1.85" height="1.85" transform="rotate(42.36 191.41 178.36)"/><rect x="186.68" y="181.29" width="1.85" height="1.85" transform="rotate(46.8 187.61 182.21)"/><rect x="173.67" y="190.92" width="1.85" height="1.85" transform="rotate(60.14 174.6 191.85)"/><rect x="166.45" y="194.53" width="1.85" height="1.85" transform="rotate(66.79 167.37 195.46)"/><rect x="163.99" y="195.53" width="1.85" height="1.85" transform="rotate(68.97 164.92 196.46)"/><rect x="129.89" y="199.58" width="1.85" height="1.85" transform="rotate(97.49 130.81 200.51)"/><rect x="121.7" y="198" width="1.85" height="1.85" transform="rotate(104.35 122.63 198.93)"/><rect x="106.22" y="192" width="1.85" height="1.85" transform="rotate(118.03 107.14 192.92)"/><rect x="99.72" y="188.07" width="1.85" height="1.85" transform="rotate(124.28 100.64 188.99)"/><rect x="82.59" y="171.44" width="1.85" height="1.85" transform="rotate(144 83.51 172.37)"/><rect x="74.83" y="157.75" width="1.85" height="1.85" transform="rotate(156.96 75.76 158.68)"/><rect x="72.15" y="150.27" width="1.85" height="1.85" transform="rotate(163.5 73.07 151.2)"/><rect x="71.43" y="147.69" width="1.85" height="1.85" transform="rotate(165.7 72.36 148.62)"/><rect x="70.82" y="145.09" width="1.85" height="1.85" transform="rotate(167.9 71.75 146.01)"/><rect x="70.19" y="119.21" width="1.85" height="1.85" transform="rotate(189.3 71.12 120.14)"/><rect x="71.81" y="111.85" width="1.85" height="1.85" transform="rotate(195.5 72.73 112.77)"/><rect x="75.18" y="102.4" width="1.85" height="1.85" transform="rotate(203.75 76.1 103.33)"/><rect x="79.86" y="93.55" width="1.85" height="1.85" transform="rotate(211.99 80.78 94.47)"/><rect x="81.23" y="91.45" width="1.85" height="1.85" transform="rotate(214.05 82.15 92.37)"/><rect x="91.52" y="79.43" width="1.85" height="1.85" transform="rotate(227.09 92.44 80.35)"/><rect x="93.56" y="77.6" width="1.85" height="1.85" transform="rotate(229.34 94.48 78.53)"/><rect x="95.67" y="75.86" width="1.85" height="1.85" transform="rotate(231.59 96.6 76.78)"/><rect x="97.85" y="74.2" width="1.85" height="1.85" transform="rotate(233.84 98.78 75.12)"/><rect x="100.1" y="72.63" width="1.85" height="1.85" transform="rotate(236.1 101.02 73.55)"/><rect x="102.4" y="71.14" width="1.85" height="1.85" transform="rotate(238.35 103.33 72.07)"/><rect x="107.18" y="68.45" width="1.85" height="1.85" transform="rotate(242.86 108.1 69.38)"/><rect x="109.64" y="67.25" width="1.85" height="1.85" transform="rotate(245.11 110.56 68.17)"/><rect x="119.9" y="63.43" width="1.85" height="1.85" transform="rotate(254.12 120.83 64.36)"/><rect x="127.85" y="61.67" width="1.85" height="1.85" transform="rotate(260.81 128.77 62.59)"/><rect x="130.51" y="61.29" width="1.85" height="1.85" transform="rotate(263.02 131.44 62.22)"/><rect x="135.87" y="60.84" width="1.85" height="1.85" transform="rotate(267.44 136.79 61.77)"/><rect x="138.55" y="60.78" width="1.85" height="1.85" transform="rotate(269.65 139.48 61.7)"/><rect x="149.27" y="61.54" width="1.85" height="1.85" transform="rotate(278.49 150.19 62.46)"/><rect x="164.8" y="65.74" width="1.85" height="1.85" transform="rotate(291.75 165.73 66.66)"/><rect x="169.72" y="67.92" width="1.85" height="1.85" transform="rotate(296.17 170.64 68.85)"/><rect x="172.11" y="69.15" width="1.85" height="1.85" transform="rotate(298.38 173.03 70.08)"/><rect x="176.73" y="71.89" width="1.85" height="1.85" transform="rotate(302.8 177.66 72.81)"/><rect x="178.96" y="73.39" width="1.85" height="1.85" transform="rotate(305.01 179.89 74.31)"/><rect x="181.13" y="74.97" width="1.85" height="1.85" transform="rotate(307.22 182.06 75.9)"/><rect x="187.26" y="80.21" width="1.85" height="1.85" transform="rotate(313.85 188.19 81.13)"/><rect x="189.16" y="82.11" width="1.85" height="1.85" transform="rotate(316.06 190.09 83.03)"/><rect x="194.41" y="88.23" width="1.85" height="1.85" transform="rotate(322.69 195.34 89.15)"/><rect x="196" y="90.39" width="1.85" height="1.85" transform="rotate(324.9 196.92 91.32)"/><rect x="197.5" y="92.62" width="1.85" height="1.85" transform="rotate(327.11 198.43 93.55)"/><rect x="198.92" y="94.91" width="1.85" height="1.85" transform="rotate(329.32 199.84 95.83)"/><rect x="200.24" y="97.25" width="1.85" height="1.85" transform="rotate(331.53 201.17 98.17)"/><rect x="201.48" y="99.63" width="1.85" height="1.85" transform="rotate(333.74 202.4 100.56)"/><rect x="202.62" y="102.07" width="1.85" height="1.85" transform="rotate(335.95 203.55 102.99)"/><rect x="205.48" y="109.6" width="1.85" height="1.85" transform="rotate(342.58 206.4 110.53)"/></g>
<g font-family='"Liberation Sans", sans-serif' font-size="10" fill="#000" stroke="#000" stroke-width="0.15"><text transform="translate(212.2 131.32) rotate(-0.06) scale(0.31)" text-anchor="start" y="3.4">Enterobacter sp. WAB 123</text><text transform="translate(212.15 134.19) rotate(2.21) scale(0.31)" text-anchor="start" y="3.4">Enterobacter hormaechei BGGLJ</text><text transform="translate(211.98 137.05) rotate(4.48) scale(0.31)" text-anchor="start" y="3.4">Enterobacter sp. DGow2</text><text transform="translate(211.7 139.9) rotate(6.75) scale(0.31)" text-anchor="start" y="3.4">Klebsiella aerogenes seqdrgs 1221</text><text transform="translate(211.3 142.74) rotate(9.03) scale(0.31)" text-anchor="start" y="3.4">Enterobacter cloacae CCY</text><text transform="translate(210.8 145.57) rotate(11.3) scale(0.31)" text-anchor="start" y="3.4">F4</text><text transform="translate(210.18 148.37) rotate(13.57) scale(0.31)" text-anchor="start" y="3.4">BH27</text><text transform="translate(209.45 151.14) rotate(15.85) scale(0.31)" text-anchor="start" y="3.4">JF20</text><text transform="translate(208.62 153.88) rotate(18.12) scale(0.31)" text-anchor="start" y="3.4">F45</text><text transform="translate(207.67 156.59) rotate(20.39) scale(0.31)" text-anchor="start" y="3.4">F61</text><text transform="translate(206.62 159.26) rotate(22.66) scale(0.31)" text-anchor="start" y="3.4">BH15</text><text transform="translate(205.49 161.82) rotate(24.88) scale(0.31)" text-anchor="start" y="3.4">Klebsiella pneumoniae E16KP0218</text><text transform="translate(204.29 164.28) rotate(27.05) scale(0.31)" text-anchor="start" y="3.4">Klebsiella pneumoniae Gdbl82</text><text transform="translate(203 166.69) rotate(29.22) scale(0.31)" text-anchor="start" y="3.4">Klebsiella pneumoniae GUA</text><text transform="translate(201.62 169.05) rotate(31.38) scale(0.31)" text-anchor="start" y="3.4">JF60</text><text transform="translate(200.16 171.36) rotate(33.55) scale(0.31)" text-anchor="start" y="3.4">Klebsiella pneumoniae H7-1170</text><text transform="translate(198.6 173.61) rotate(35.72) scale(0.31)" text-anchor="start" y="3.4">JF62</text><text transform="translate(196.94 175.82) rotate(37.91) scale(0.31)" text-anchor="start" y="3.4">Klebsiella pneumoniae E16KP0210</text><text transform="translate(195.18 178) rotate(40.13) scale(0.31)" text-anchor="start" y="3.4">Pantoea agglomerans NAIG</text><text transform="translate(193.33 180.11) rotate(42.36) scale(0.31)" text-anchor="start" y="3.4">F11</text><text transform="translate(191.4 182.15) rotate(44.58) scale(0.31)" text-anchor="start" y="3.4">Pantoea sp. ICMP 9</text><text transform="translate(189.39 184.11) rotate(46.8) scale(0.31)" text-anchor="start" y="3.4">H14</text><text transform="translate(187.31 185.99) rotate(49.03) scale(0.31)" text-anchor="start" y="3.4">Pantoea agglomerans FC0M6</text><text transform="translate(185.15 187.79) rotate(51.25) scale(0.31)" text-anchor="start" y="3.4">Pantoea sp. FIT-2</text><text transform="translate(182.93 189.5) rotate(53.47) scale(0.31)" text-anchor="start" y="3.4">Pantoea ananatis LT</text><text transform="translate(180.65 191.12) rotate(55.7) scale(0.31)" text-anchor="start" y="3.4">Pantoea sp. G2RT</text><text transform="translate(178.3 192.66) rotate(57.92) scale(0.31)" text-anchor="start" y="3.4">Pantoea agglomerans KDH 166</text><text transform="translate(175.89 194.1) rotate(60.14) scale(0.31)" text-anchor="start" y="3.4">F34</text><text transform="translate(173.44 195.45) rotate(62.37) scale(0.31)" text-anchor="start" y="3.4">Pantoea dispersa EL107</text><text transform="translate(170.93 196.7) rotate(64.59) scale(0.31)" text-anchor="start" y="3.4">Pantoea sp. M51</text><text transform="translate(168.39 197.85) rotate(66.79) scale(0.31)" text-anchor="start" y="3.4">JF21</text><text transform="translate(165.85 198.88) rotate(68.97) scale(0.31)" text-anchor="start" y="3.4">BH27</text><text transform="translate(163.27 199.82) rotate(71.14) scale(0.31)" text-anchor="start" y="3.4">Acinetobacter sp. ZX-15</text><text transform="translate(160.65 200.66) rotate(73.32) scale(0.31)" text-anchor="start" y="3.4">Acinetobacter sp. CA2Iay7</text><text transform="translate(158 201.4) rotate(75.5) scale(0.31)" text-anchor="start" y="3.4">Acinetobacter baumannii 7</text><text transform="translate(155.33 202.03) rotate(77.68) scale(0.31)" text-anchor="start" y="3.4">Acinetobacter sp. G-4</text><text transform="translate(152.63 202.57) rotate(79.86) scale(0.31)" text-anchor="start" y="3.4">Acinetobacter sp. G-7</text><text transform="translate(149.92 203) rotate(82.03) scale(0.31)" text-anchor="start" y="3.4">Acinetobacter calcoaceticus Y4</text><text transform="translate(147.19 203.33) rotate(84.21) scale(0.31)" text-anchor="start" y="3.4">Acinetobacter sp. Z13L.WKAb</text><text transform="translate(144.43 203.56) rotate(86.41) scale(0.31)" text-anchor="start" y="3.4">Achromobacter sp. B24</text><text transform="translate(141.63 203.68) rotate(88.62) scale(0.31)" text-anchor="start" y="3.4">Achromobacter sp. HGa11</text><text transform="translate(138.84 203.69) rotate(270.84) scale(0.31)" text-anchor="end" y="3.4">Achromobacter sp. JCM 28709</text><text transform="translate(136.04 203.6) rotate(273.06) scale(0.31)" text-anchor="end" y="3.4">Achromobacter sp. BVP-8059</text><text transform="translate(133.25 203.39) rotate(275.27) scale(0.31)" text-anchor="end" y="3.4">Achromobacter sp. ICM 29709</text><text transform="translate(130.47 203.08) rotate(277.49) scale(0.31)" text-anchor="end" y="3.4">F19</text><text transform="translate(127.66 202.66) rotate(279.75) scale(0.31)" text-anchor="end" y="3.4">Castellaniella denitrificans PL18</text><text transform="translate(124.81 202.11) rotate(282.05) scale(0.31)" text-anchor="end" y="3.4">Castellaniella denitrificans DL24</text><text transform="translate(121.98 201.44) rotate(284.35) scale(0.31)" text-anchor="end" y="3.4">BH68</text><text transform="translate(119.18 200.67) rotate(286.65) scale(0.31)" text-anchor="end" y="3.4">Castellaniella sp. AFR23</text><text transform="translate(116.42 199.78) rotate(288.95) scale(0.31)" text-anchor="end" y="3.4">Castellaniella defragrans Q11</text><text transform="translate(113.7 198.78) rotate(291.25) scale(0.31)" text-anchor="end" y="3.4">Castellaniella sp. ML-07</text><text transform="translate(111.01 197.68) rotate(293.55) scale(0.31)" text-anchor="end" y="3.4">Castellaniella sp. SPC-4</text><text transform="translate(108.38 196.47) rotate(295.85) scale(0.31)" text-anchor="end" y="3.4">Castellaniella defragrans G5c</text><text transform="translate(105.92 195.22) rotate(298.03) scale(0.31)" text-anchor="end" y="3.4">F12</text><text transform="translate(103.64 193.95) rotate(300.1) scale(0.31)" text-anchor="end" y="3.4">Stenotrophomonas sp. T1025</text><text transform="translate(101.41 192.6) rotate(302.17) scale(0.31)" text-anchor="end" y="3.4">Stenotrophomonas sp. B8T12</text><text transform="translate(99.18 191.14) rotate(304.28) scale(0.31)" text-anchor="end" y="3.4">F67</text><text transform="translate(96.96 189.57) rotate(306.44) scale(0.31)" text-anchor="end" y="3.4">Pseudoxanthomonas sp. EM6215</text><text transform="translate(94.8 187.91) rotate(308.59) scale(0.31)" text-anchor="end" y="3.4">Pseudoxanthomonas sp. Cant-5</text><text transform="translate(92.71 186.17) rotate(310.75) scale(0.31)" text-anchor="end" y="3.4">Pseudoxanthomonas mexicana S5</text><text transform="translate(90.68 184.36) rotate(312.91) scale(0.31)" text-anchor="end" y="3.4">Pseudoxanthomonas indica P15</text><text transform="translate(88.72 182.47) rotate(315.06) scale(0.31)" text-anchor="end" y="3.4">Pseudoxanthomonas sp. YS-3</text><text transform="translate(86.83 180.5) rotate(317.22) scale(0.31)" text-anchor="end" y="3.4">Pseudoxanthomonas sp. 2AT-35</text><text transform="translate(84.97 178.41) rotate(319.44) scale(0.31)" text-anchor="end" y="3.4">Methylobacterium radiotolerans I3</text><text transform="translate(83.15 176.19) rotate(321.72) scale(0.31)" text-anchor="end" y="3.4">Methylobacterium tardum L10</text><text transform="translate(81.41 173.9) rotate(324) scale(0.31)" text-anchor="end" y="3.4">F22</text><text transform="translate(79.76 171.54) rotate(326.28) scale(0.31)" text-anchor="end" y="3.4">Methylobacterium sp. XC1</text><text transform="translate(78.21 169.11) rotate(328.56) scale(0.31)" text-anchor="end" y="3.4">Methylobacterium sp. M124</text><text transform="translate(76.83 166.74) rotate(330.74) scale(0.31)" text-anchor="end" y="3.4">Kaistia sp. M113O1</text><text transform="translate(75.59 164.43) rotate(332.81) scale(0.31)" text-anchor="end" y="3.4">Kaistia adipata Chj404</text><text transform="translate(74.43 162.08) rotate(334.89) scale(0.31)" text-anchor="end" y="3.4">Kaistia sp. MMO-30</text><text transform="translate(73.37 159.69) rotate(336.96) scale(0.31)" text-anchor="end" y="3.4">F29</text><text transform="translate(72.36 157.19) rotate(339.1) scale(0.31)" text-anchor="end" y="3.4">Brevundimonas sp. SOUCY</text><text transform="translate(71.42 154.58) rotate(341.3) scale(0.31)" text-anchor="end" y="3.4">Brevundimonas sp. MEUS</text><text transform="translate(70.58 151.93) rotate(343.5) scale(0.31)" text-anchor="end" y="3.4">F29</text><text transform="translate(69.84 149.26) rotate(345.7) scale(0.31)" text-anchor="end" y="3.4">H31</text><text transform="translate(69.21 146.56) rotate(347.9) scale(0.31)" text-anchor="end" y="3.4">JF30</text><text transform="translate(68.68 143.83) rotate(350.1) scale(0.31)" text-anchor="end" y="3.4">Brevundimonas naejangsanensis W4</text><text transform="translate(68.25 141.09) rotate(352.3) scale(0.31)" text-anchor="end" y="3.4">Brevundimonas diminuta ITL14</text><text transform="translate(67.93 138.33) rotate(354.5) scale(0.31)" text-anchor="end" y="3.4">Brevundimonas sp. LMO21</text><text transform="translate(67.72 135.56) rotate(356.7) scale(0.31)" text-anchor="end" y="3.4">Brevundimonas sp. Gd5n1</text><text transform="translate(67.61 132.79) rotate(358.9) scale(0.31)" text-anchor="end" y="3.4">Brevundimonas nae GYSe1 2L5</text><text transform="translate(67.61 130.1) rotate(361.03) scale(0.31)" text-anchor="end" y="3.4">Streptomyces sp. B1221</text><text transform="translate(67.71 127.49) rotate(363.1) scale(0.31)" text-anchor="end" y="3.4">Streptomyces sp. KL229</text><text transform="translate(67.89 124.89) rotate(365.17) scale(0.31)" text-anchor="end" y="3.4">Streptomyces sp. Rb27</text><text transform="translate(68.18 122.3) rotate(367.23) scale(0.31)" text-anchor="end" y="3.4">Streptomyces koyangensis B1327</text><text transform="translate(68.55 119.72) rotate(369.3) scale(0.31)" text-anchor="end" y="3.4">H67</text><text transform="translate(69.02 117.15) rotate(371.37) scale(0.31)" text-anchor="end" y="3.4">Streptomyces sp. JBC3234</text><text transform="translate(69.58 114.6) rotate(373.43) scale(0.31)" text-anchor="end" y="3.4">Streptomyces rochei 7V26</text><text transform="translate(70.23 112.08) rotate(375.5) scale(0.31)" text-anchor="end" y="3.4">JF46</text><text transform="translate(70.97 109.58) rotate(377.57) scale(0.31)" text-anchor="end" y="3.4">Streptomyces sp. A16207.2</text><text transform="translate(71.8 107.11) rotate(379.63) scale(0.31)" text-anchor="end" y="3.4">Microbacterium sp. CGyR 1</text><text transform="translate(72.72 104.68) rotate(381.69) scale(0.31)" text-anchor="end" y="3.4">Microbacterium sp. 2Y79</text><text transform="translate(73.72 102.28) rotate(383.75) scale(0.31)" text-anchor="end" y="3.4">BH4</text><text transform="translate(74.81 99.92) rotate(385.81) scale(0.31)" text-anchor="end" y="3.4">Microbacterium sp. PL3033</text><text transform="translate(75.99 97.6) rotate(387.87) scale(0.31)" text-anchor="end" y="3.4">Microbacterium testaceum NL41</text><text transform="translate(77.24 95.33) rotate(389.93) scale(0.31)" text-anchor="end" y="3.4">Microbacterium arborescens 22A</text><text transform="translate(78.58 93.1) rotate(391.99) scale(0.31)" text-anchor="end" y="3.4">F61</text><text transform="translate(80 90.92) rotate(394.05) scale(0.31)" text-anchor="end" y="3.4">F25</text><text transform="translate(81.49 88.79) rotate(396.11) scale(0.31)" text-anchor="end" y="3.4">Microbacterium arborescens 171L5</text><text transform="translate(83.06 86.72) rotate(398.17) scale(0.31)" text-anchor="end" y="3.4">Microbacterium sp. QCT-1</text><text transform="translate(84.78 84.61) rotate(400.33) scale(0.31)" text-anchor="end" y="3.4">Arthrobacter sp. Y11</text><text transform="translate(86.66 82.48) rotate(402.58) scale(0.31)" text-anchor="end" y="3.4">Arthrobacter sp. X3</text><text transform="translate(88.63 80.43) rotate(404.83) scale(0.31)" text-anchor="end" y="3.4">Arthrobacter sp. R4</text><text transform="translate(90.67 78.45) rotate(407.09) scale(0.31)" text-anchor="end" y="3.4">F58</text><text transform="translate(92.79 76.56) rotate(409.34) scale(0.31)" text-anchor="end" y="3.4">F47</text><text transform="translate(94.98 74.75) rotate(411.59) scale(0.31)" text-anchor="end" y="3.4">BH29</text><text transform="translate(97.24 73.02) rotate(413.84) scale(0.31)" text-anchor="end" y="3.4">BH30</text><text transform="translate(99.57 71.39) rotate(416.1) scale(0.31)" text-anchor="end" y="3.4">JF26</text><text transform="translate(101.96 69.85) rotate(418.35) scale(0.31)" text-anchor="end" y="3.4">F27</text><text transform="translate(104.41 68.41) rotate(420.6) scale(0.31)" text-anchor="end" y="3.4">Arthrobacter sp. U41</text><text transform="translate(106.91 67.06) rotate(422.86) scale(0.31)" text-anchor="end" y="3.4">JF1</text><text transform="translate(109.47 65.82) rotate(425.11) scale(0.31)" text-anchor="end" y="3.4">JF45</text><text transform="translate(112.07 64.67) rotate(427.36) scale(0.31)" text-anchor="end" y="3.4">Arthrobacter sp. 59</text><text transform="translate(114.72 63.63) rotate(429.61) scale(0.31)" text-anchor="end" y="3.4">Arthrobacter sp. 7A</text><text transform="translate(117.4 62.69) rotate(431.87) scale(0.31)" text-anchor="end" y="3.4">Arthrobacter sp. K12</text><text transform="translate(120.12 61.86) rotate(434.12) scale(0.31)" text-anchor="end" y="3.4">BH16</text><text transform="translate(122.87 61.14) rotate(436.37) scale(0.31)" text-anchor="end" y="3.4">Arthrobacter sp. ZL48</text><text transform="translate(125.62 60.53) rotate(438.6) scale(0.31)" text-anchor="end" y="3.4">Bacillus sp. JDY29Z2</text><text transform="translate(128.36 60.03) rotate(440.81) scale(0.31)" text-anchor="end" y="3.4">JF26</text><text transform="translate(131.12 59.64) rotate(443.02) scale(0.31)" text-anchor="end" y="3.4">JF23</text><text transform="translate(133.89 59.35) rotate(445.23) scale(0.31)" text-anchor="end" y="3.4">Bacillus sp. IHBB</text><text transform="translate(136.68 59.17) rotate(447.44) scale(0.31)" text-anchor="end" y="3.4">JF43</text><text transform="translate(139.46 59.1) rotate(449.65) scale(0.31)" text-anchor="end" y="3.4">BH51</text><text transform="translate(142.25 59.14) rotate(271.86) scale(0.31)" text-anchor="start" y="3.4">Bacillus pumilus M58</text><text transform="translate(145.04 59.28) rotate(274.07) scale(0.31)" text-anchor="start" y="3.4">Bacillus velezensis GMN03-1</text><text transform="translate(147.81 59.53) rotate(276.28) scale(0.31)" text-anchor="start" y="3.4">Bacillus velezensis GMN-1</text><text transform="translate(150.58 59.89) rotate(278.49) scale(0.31)" text-anchor="start" y="3.4">JF52</text><text transform="translate(153.33 60.36) rotate(280.7) scale(0.31)" text-anchor="start" y="3.4">Bacillus subtilis 3AT</text><text transform="translate(156.06 60.93) rotate(282.91) scale(0.31)" text-anchor="start" y="3.4">Bacillus amyloliquefaciens KU7A2</text><text transform="translate(158.76 61.6) rotate(285.12) scale(0.31)" text-anchor="start" y="3.4">Bacillus amyloliquefaciens MP1</text><text transform="translate(161.44 62.38) rotate(287.33) scale(0.31)" text-anchor="start" y="3.4">Bacillus megaterium KFM04783</text><text transform="translate(164.08 63.26) rotate(289.54) scale(0.31)" text-anchor="start" y="3.4">Bacillus sp. SDF-221</text><text transform="translate(166.69 64.25) rotate(291.75) scale(0.31)" text-anchor="start" y="3.4">BH21</text><text transform="translate(169.26 65.33) rotate(293.96) scale(0.31)" text-anchor="start" y="3.4">Bacillus aryabhattai DMM-D3</text><text transform="translate(171.79 66.51) rotate(296.17) scale(0.31)" text-anchor="start" y="3.4">H17</text><text transform="translate(174.27 67.79) rotate(298.38) scale(0.31)" text-anchor="start" y="3.4">BH20</text><text transform="translate(176.69 69.16) rotate(300.59) scale(0.31)" text-anchor="start" y="3.4">Bacillus sp. HBS-3</text><text transform="translate(179.07 70.63) rotate(302.8) scale(0.31)" text-anchor="start" y="3.4">JF19</text><text transform="translate(181.38 72.18) rotate(305.01) scale(0.31)" text-anchor="start" y="3.4">JF45</text><text transform="translate(183.63 73.83) rotate(307.22) scale(0.31)" text-anchor="start" y="3.4">H71</text><text transform="translate(185.82 75.55) rotate(309.43) scale(0.31)" text-anchor="start" y="3.4">Bacillus aryabhattai SH101</text><text transform="translate(187.94 77.37) rotate(311.64) scale(0.31)" text-anchor="start" y="3.4">Bacillus megaterium R2</text><text transform="translate(189.99 79.26) rotate(313.85) scale(0.31)" text-anchor="start" y="3.4">H3</text><text transform="translate(191.96 81.23) rotate(316.06) scale(0.31)" text-anchor="start" y="3.4">BH14</text><text transform="translate(193.86 83.27) rotate(318.27) scale(0.31)" text-anchor="start" y="3.4">Bacillus subtilis UM11</text><text transform="translate(195.67 85.39) rotate(320.48) scale(0.31)" text-anchor="start" y="3.4">Bacillus pumilus U986</text><text transform="translate(197.4 87.57) rotate(322.69) scale(0.31)" text-anchor="start" y="3.4">H56</text><text transform="translate(199.05 89.82) rotate(324.9) scale(0.31)" text-anchor="start" y="3.4">H28</text><text transform="translate(200.61 92.14) rotate(327.11) scale(0.31)" text-anchor="start" y="3.4">BH33</text><text transform="translate(202.08 94.51) rotate(329.32) scale(0.31)" text-anchor="start" y="3.4">H38</text><text transform="translate(203.45 96.93) rotate(331.53) scale(0.31)" text-anchor="start" y="3.4">H42</text><text transform="translate(204.74 99.41) rotate(333.74) scale(0.31)" text-anchor="start" y="3.4">F70</text><text transform="translate(205.92 101.93) rotate(335.95) scale(0.31)" text-anchor="start" y="3.4">JF17</text><text transform="translate(207.01 104.5) rotate(338.16) scale(0.31)" text-anchor="start" y="3.4">Bacillus subtilis JP24</text><text transform="translate(208 107.11) rotate(340.37) scale(0.31)" text-anchor="start" y="3.4">Bacillus subtilis Baa12</text><text transform="translate(208.88 109.75) rotate(342.58) scale(0.31)" text-anchor="start" y="3.4">BH46</text><text transform="translate(209.67 112.43) rotate(344.79) scale(0.31)" text-anchor="start" y="3.4">Bacillus cereus K1</text><text transform="translate(210.35 115.13) rotate(347) scale(0.31)" text-anchor="start" y="3.4">Bacillus sp. JDY29Z2</text></g>
</g>
<g transform="translate(-2.92 0) scale(1.007 1)">
<path d="M307.39 65.76A127.7 127.7 0 0 1 451.06 9.16L432.36 75.69A58.6 58.6 0 0 0 366.43 101.66Z" fill="#fc9284"/>
<path d="M451.06 9.16A127.7 127.7 0 0 1 540.67 102.29L473.48 118.42A58.6 58.6 0 0 0 432.36 75.69Z" fill="#6bd2e8"/>
<path d="M544.02 125.42A127.7 127.7 0 0 1 396.52 258.23L407.33 189.98A58.6 58.6 0 0 0 475.02 129.03Z" fill="#13c5b1"/>
<path d="M396.52 258.23A127.7 127.7 0 0 1 305.69 195.56L365.65 161.22A58.6 58.6 0 0 0 407.33 189.98Z" fill="#f0c37b"/>
<path d="M305.69 195.56A127.7 127.7 0 0 1 288.88 136.56L357.94 134.15A58.6 58.6 0 0 0 365.65 161.22Z" fill="#eec9c9"/>
<path d="M288.88 136.56A127.7 127.7 0 0 1 307.39 65.76L366.43 101.66A58.6 58.6 0 0 0 357.94 134.15Z" fill="#dedefa"/>
<path d="M416.5 132.1L413.84 123.58M410.19 125.79A8.93 8.93 0 0 1 418.11 123.32M410.19 125.79L406.99 122.58M405.7 124.07A13.46 13.46 0 0 1 408.48 121.29M405.7 124.07L374.2 100.67M372.79 102.67A52.7 52.7 0 0 1 375.7 98.74M372.79 102.67L367.56 99.14M375.7 98.74L370.82 94.75M408.48 121.29L405.75 117.62M403.65 119.44A18.04 18.04 0 0 1 408.1 116.14M403.65 119.44L374.48 90.68M408.1 116.14L405.93 112.03M402.71 114.1A22.68 22.68 0 0 1 409.46 110.54M402.71 114.1L384.46 90.26M382.56 91.79A52.7 52.7 0 0 1 386.44 88.82M382.56 91.79L378.5 86.97M386.44 88.82L382.84 83.64M409.46 110.54L407.99 106.07M403.03 108.26A27.38 27.38 0 0 1 413.3 104.91M403.03 108.26L387.47 80.73M413.3 104.91L412.74 100.15M407.71 101.16A32.17 32.17 0 0 1 417.86 99.96M407.71 101.16L406.38 96.46M401.34 98.29A37.05 37.05 0 0 1 411.63 95.37M401.34 98.29L392.35 78.27M411.63 95.37L410.97 90.41M407.61 90.99A42.06 42.06 0 0 1 414.37 90.1M407.61 90.99L406.52 85.93M403.33 86.74A47.24 47.24 0 0 1 409.75 85.35M403.33 86.74L401.81 81.49M399.48 82.23A52.7 52.7 0 0 1 404.17 80.87M399.48 82.23L397.44 76.26M404.17 80.87L402.7 74.74M409.75 85.35L408.07 73.71M414.37 90.1L413.52 73.18M417.86 99.96L418.99 73.15M418.11 123.32L426 80.27M423.59 79.88A52.7 52.7 0 0 1 428.39 80.76M423.59 79.88L424.43 73.64M428.39 80.76L429.82 74.62M416.5 132.1L438.41 115.68M433.37 110.53A27.38 27.38 0 0 1 441.94 121.96M433.37 110.53L436.32 106.76M430.04 102.92A32.17 32.17 0 0 1 441.56 111.93M430.04 102.92L432.09 98.49M428.09 96.91A37.05 37.05 0 0 1 435.88 100.52M428.09 96.91L434.96 76.06M435.88 100.52L438.5 96.25M434.83 94.25A42.06 42.06 0 0 1 441.95 98.62M434.83 94.25L439.46 84.67M437.34 83.7A52.7 52.7 0 0 1 441.54 85.73M437.34 83.7L439.84 77.91M441.54 85.73L444.53 80.18M441.95 98.62L445.08 94.49M442.53 92.68A47.24 47.24 0 0 1 447.51 96.47M442.53 92.68L449.01 82.86M447.51 96.47L451.1 92.35M449.3 90.86A52.7 52.7 0 0 1 452.82 93.92M449.3 90.86L453.23 85.93M452.82 93.92L457.16 89.35M441.56 111.93L457.55 99.06M456.05 97.27A52.7 52.7 0 0 1 458.97 100.9M456.05 97.27L460.78 93.11M458.97 100.9L464.05 97.17M441.94 121.96L455.57 116.53M453.83 112.72A42.06 42.06 0 0 1 456.92 120.48M453.83 112.72L458.43 110.34M456.89 107.61A47.24 47.24 0 0 1 459.78 113.16M456.89 107.61L466.95 101.51M459.78 113.16L464.78 110.97M463.8 108.86A52.7 52.7 0 0 1 465.66 113.13M463.8 108.86L469.45 106.08M465.66 113.13L471.54 110.86M456.92 120.48L473.2 115.8M416.5 132.1L416.37 136.54M418.56 136.04A4.44 4.44 0 0 1 414.21 135.91M418.56 136.04L420.64 140.01M424.14 136.72A8.93 8.93 0 0 1 415.93 141.01M424.14 136.72L428.02 139.06M429.95 132.66A13.46 13.46 0 0 1 423.25 143.74M429.95 132.66L469.15 134.28M469.2 131.81A52.7 52.7 0 0 1 468.99 136.74M469.2 131.81L475.5 131.77M468.99 136.74L475.27 137.3M423.25 143.74L425.54 147.71M430.92 142.94A18.04 18.04 0 0 1 418.73 150M430.92 142.94L434.63 145.72M438.59 137.24A22.68 22.68 0 0 1 427.58 151.89M438.59 137.24L467.82 144.05M468.33 141.63A52.7 52.7 0 0 1 467.21 146.44M468.33 141.63L474.53 142.77M467.21 146.44L473.27 148.15M427.58 151.89L429.88 155.99M434.34 152.87A27.38 27.38 0 0 1 424.89 158.17M434.34 152.87L437.46 156.5M442.98 150.36A32.17 32.17 0 0 1 430.55 161.04M442.98 150.36L447 153.13M450.39 147.08A37.05 37.05 0 0 1 442.55 158.44M450.39 147.08L464.7 153.4M465.64 151.12A52.7 52.7 0 0 1 463.65 155.63M465.64 151.12L471.52 153.4M463.65 155.63L469.29 158.45M442.55 158.44L446.07 162M449.37 158.34A42.06 42.06 0 0 1 442.38 165.25M449.37 158.34L453.41 161.57M455.39 158.91A47.24 47.24 0 0 1 451.25 164.09M455.39 158.91L459.89 162.01M461.24 159.94A52.7 52.7 0 0 1 458.44 164.01M461.24 159.94L466.59 163.27M458.44 164.01L463.46 167.82M451.25 164.09L459.91 172.06M442.38 165.25L445.56 169.34M448.11 167.2A47.24 47.24 0 0 1 442.88 171.29M448.11 167.2L455.98 175.95M442.88 171.29L445.93 175.81M447.94 174.39A52.7 52.7 0 0 1 443.85 177.14M447.94 174.39L451.7 179.45M443.85 177.14L447.12 182.53M430.55 161.04L442.27 185.18M424.89 158.17L432.65 182.26M434.98 181.45A52.7 52.7 0 0 1 430.28 182.96M434.98 181.45L437.19 187.35M430.28 182.96L431.93 189.05M418.73 150L423.02 184.39M425.46 184.03A52.7 52.7 0 0 1 420.56 184.64M425.46 184.03L426.53 190.24M420.56 184.64L421.05 190.92M415.93 141.01L413.16 184.69M415.63 184.79A52.7 52.7 0 0 1 410.7 184.48M415.63 184.79L415.52 191.09M410.7 184.48L410.01 190.74M414.21 135.91L404.81 151.53M410.97 154.09A22.68 22.68 0 0 1 399.66 147.29M410.97 154.09L403.64 183.2M405.94 183.73A52.7 52.7 0 0 1 401.37 182.58M405.94 183.73L404.68 189.9M401.37 182.58L399.57 188.62M399.66 147.29L396.16 150.44M399.54 153.6A27.38 27.38 0 0 1 393.37 146.76M399.54 153.6L396.57 157.35M402.1 160.86A32.17 32.17 0 0 1 391.87 152.79M402.1 160.86L399.91 165.23M402.74 166.5A37.05 37.05 0 0 1 397.2 163.72M402.74 166.5L394.59 186.88M397.2 163.72L394.59 168M397.46 169.6A42.06 42.06 0 0 1 391.85 166.18M397.46 169.6L389.79 184.71M391.85 166.18L388.81 170.37M391.44 172.14A47.24 47.24 0 0 1 386.31 168.43M391.44 172.14L385.2 182.11M386.31 168.43L382.83 172.63M384.67 174.1A52.7 52.7 0 0 1 381.05 171.09M384.67 174.1L380.86 179.12M381.05 171.09L376.81 175.75M391.87 152.79L376.16 166M377.71 167.77A52.7 52.7 0 0 1 374.68 164.16M377.71 167.77L373.07 172.04M374.68 164.16L369.68 168M393.37 146.76L366.66 163.68M416.5 132.1L384.33 131.97M386.29 143.14A32.17 32.17 0 0 1 386.38 120.81M386.29 143.14L377 146.53M379.03 151.21A42.06 42.06 0 0 1 375.54 141.65M379.03 151.21L363.94 158.9M375.54 141.65L370.5 142.82M371.75 147.23A47.24 47.24 0 0 1 369.67 138.31M371.75 147.23L366.58 148.98M367.46 151.38A52.7 52.7 0 0 1 365.82 146.54M367.46 151.38L361.59 153.69M365.82 146.54L359.76 148.26M369.67 138.31L364.26 139.03M364.66 141.56A52.7 52.7 0 0 1 363.99 136.49M364.66 141.56L358.46 142.69M363.99 136.49L357.71 137.02M386.38 120.81L381.81 119.1M380.34 124.04A37.05 37.05 0 0 1 383.95 114.41M380.34 124.04L375.45 122.95M374.6 128.48A42.06 42.06 0 0 1 377.03 117.58M374.6 128.48L369.44 128.03M369.27 131.46A47.24 47.24 0 0 1 369.86 124.63M369.27 131.46L357.51 131.3M369.86 124.63L364.47 123.77M364.12 126.29A52.7 52.7 0 0 1 364.93 121.26M364.12 126.29L357.86 125.6M364.93 121.26L358.76 119.96M377.03 117.58L367.04 113.9M366.22 116.32A52.7 52.7 0 0 1 367.98 111.53M366.22 116.32L360.21 114.43M367.98 111.53L362.18 109.07M383.95 114.41L364.66 103.93" fill="none" stroke="#3a3a3a" stroke-width="0.33"/>
<g fill="#000"><circle cx="366.07" cy="98.14" r="1.75"/><circle cx="369.43" cy="93.61" r="1.75"/><circle cx="377.34" cy="85.59" r="1.75"/><circle cx="381.81" cy="82.17" r="1.75"/><circle cx="386.59" cy="79.17" r="1.75"/><circle cx="391.62" cy="76.62" r="1.75"/><circle cx="402.28" cy="72.99" r="1.75"/><circle cx="413.42" cy="71.38" r="1.75"/><circle cx="419.06" cy="71.35" r="1.75"/><circle cx="424.68" cy="71.85" r="1.75"/><circle cx="430.22" cy="72.87" r="1.75"/><circle cx="440.55" cy="76.26" r="1.75"/><circle cx="445.39" cy="78.6" r="1.75"/><circle cx="450" cy="81.36" r="1.75"/><circle cx="458.4" cy="88.05" r="1.75"/><circle cx="462.13" cy="91.92" r="1.75"/><circle cx="465.5" cy="96.11" r="1.75"/><circle cx="468.49" cy="100.57" r="1.75"/><circle cx="471.07" cy="105.29" r="1.75"/><circle cx="473.22" cy="110.21" r="1.75"/><circle cx="474.93" cy="115.31" r="1.75"/><circle cx="477.06" cy="137.45" r="1.75"/><circle cx="476.3" cy="143.1" r="1.75"/><circle cx="473.2" cy="154.05" r="1.75"/><circle cx="468.12" cy="164.22" r="1.75"/><circle cx="461.23" cy="173.28" r="1.75"/><circle cx="457.18" cy="177.28" r="1.75"/><circle cx="448.05" cy="184.07" r="1.75"/><circle cx="443.05" cy="186.8" r="1.75"/><circle cx="437.82" cy="189.04" r="1.75"/><circle cx="432.4" cy="190.78" r="1.75"/><circle cx="426.84" cy="192.01" r="1.75"/><circle cx="415.49" cy="192.89" r="1.75"/><circle cx="409.81" cy="192.53" r="1.75"/><circle cx="399.05" cy="190.34" r="1.75"/><circle cx="393.92" cy="188.55" r="1.75"/><circle cx="388.97" cy="186.31" r="1.75"/><circle cx="384.24" cy="183.64" r="1.75"/><circle cx="379.77" cy="180.55" r="1.75"/><circle cx="375.6" cy="177.08" r="1.75"/><circle cx="371.75" cy="173.25" r="1.75"/><circle cx="368.25" cy="169.1" r="1.75"/><circle cx="365.14" cy="164.64" r="1.75"/><circle cx="359.92" cy="154.34" r="1.75"/><circle cx="358.03" cy="148.76" r="1.75"/><circle cx="356.69" cy="143.01" r="1.75"/><circle cx="355.91" cy="137.17" r="1.75"/><circle cx="355.71" cy="131.28" r="1.75"/><circle cx="357" cy="119.59" r="1.75"/><circle cx="358.49" cy="113.89" r="1.75"/><circle cx="360.52" cy="108.37" r="1.75"/><circle cx="363.08" cy="103.07" r="1.75"/></g>
<g fill="#ff1a1a"><circle cx="373.2" cy="89.42" r="1.75"/><circle cx="396.86" cy="74.56" r="1.75"/><circle cx="407.81" cy="71.92" r="1.75"/><circle cx="435.52" cy="74.35" r="1.75"/><circle cx="454.35" cy="84.52" r="1.75"/><circle cx="477.3" cy="131.76" r="1.75"/><circle cx="475.01" cy="148.64" r="1.75"/><circle cx="470.9" cy="159.25" r="1.75"/><circle cx="464.89" cy="168.91" r="1.75"/><circle cx="452.78" cy="180.89" r="1.75"/><circle cx="421.19" cy="192.72" r="1.75"/><circle cx="404.32" cy="191.67" r="1.75"/><circle cx="362.34" cy="159.72" r="1.75"/><circle cx="356.07" cy="125.4" r="1.75"/></g>
<g font-family='"Liberation Sans", sans-serif' font-size="10" fill="#000"><text transform="translate(362.92 96.02) rotate(33.96) scale(0.35)" text-anchor="end" y="3.4">Aspergillus sp. AOS85 Z100164</text><text transform="translate(366.49 91.21) rotate(39.27) scale(0.35)" text-anchor="end" y="3.4">Aspergillus sp. AO0001 11</text><text transform="translate(370.49 86.75) rotate(44.59) scale(0.35)" text-anchor="end" y="3.4">TF26</text><text transform="translate(374.89 82.69) rotate(49.9) scale(0.35)" text-anchor="end" y="3.4">Aspergillus terreus MoA 13</text><text transform="translate(379.65 79.04) rotate(55.21) scale(0.35)" text-anchor="end" y="3.4">Aspergillus flavus Mous 28</text><text transform="translate(384.72 75.86) rotate(60.53) scale(0.35)" text-anchor="end" y="3.4">Aspergillus terreus MS 8</text><text transform="translate(390.06 73.16) rotate(65.84) scale(0.35)" text-anchor="end" y="3.4">Aspergillus fumigatus MBIO0011</text><text transform="translate(395.64 70.96) rotate(71.16) scale(0.35)" text-anchor="end" y="3.4">TF35</text><text transform="translate(401.39 69.29) rotate(76.47) scale(0.35)" text-anchor="end" y="3.4">Aspergillus fumigatus CBS133.61</text><text transform="translate(407.27 68.16) rotate(81.79) scale(0.35)" text-anchor="end" y="3.4">F12</text><text transform="translate(413.23 67.58) rotate(87.1) scale(0.35)" text-anchor="end" y="3.4">Aspergillus fumigatus urusbehe</text><text transform="translate(419.22 67.56) rotate(-87.59) scale(0.35)" text-anchor="start" y="3.4">Aspergillus fumigatus IfBb-1</text><text transform="translate(425.19 68.09) rotate(-82.27) scale(0.35)" text-anchor="start" y="3.4">Aspergillus fumigatus MUS</text><text transform="translate(431.08 69.17) rotate(-76.96) scale(0.35)" text-anchor="start" y="3.4">Aspergillus fumigatus DSGE</text><text transform="translate(436.71 70.74) rotate(-71.77) scale(0.35)" text-anchor="start" y="3.4">F43</text><text transform="translate(442.05 72.77) rotate(-66.7) scale(0.35)" text-anchor="start" y="3.4">Mucor circinelloides CITO70</text><text transform="translate(447.19 75.26) rotate(-61.63) scale(0.35)" text-anchor="start" y="3.4">Mucor circinelloides C5884</text><text transform="translate(452.09 78.19) rotate(-56.57) scale(0.35)" text-anchor="start" y="3.4">Mucor circinelloides ISU98813147</text><text transform="translate(456.71 81.54) rotate(-51.5) scale(0.35)" text-anchor="start" y="3.4">JF53</text><text transform="translate(461.02 85.29) rotate(-46.43) scale(0.35)" text-anchor="start" y="3.4">Mucor circinelloides MOM13</text><text transform="translate(464.98 89.41) rotate(-41.37) scale(0.35)" text-anchor="start" y="3.4">Mucor circinelloides M143</text><text transform="translate(468.56 93.86) rotate(-36.3) scale(0.35)" text-anchor="start" y="3.4">Mucor circinelloides M161</text><text transform="translate(471.74 98.6) rotate(-31.23) scale(0.35)" text-anchor="start" y="3.4">Mucor circinelloides IUET-OPUR1</text><text transform="translate(474.48 103.61) rotate(-26.17) scale(0.35)" text-anchor="start" y="3.4">Mucor circinelloides WA0000891</text><text transform="translate(476.77 108.84) rotate(-21.1) scale(0.35)" text-anchor="start" y="3.4">Mucor circinelloides UASWS0704</text><text transform="translate(478.59 114.26) rotate(-16.03) scale(0.35)" text-anchor="start" y="3.4">Mucor circinelloides SF07988</text><text transform="translate(481.1 131.74) rotate(-0.32) scale(0.35)" text-anchor="start" y="3.4">JF18</text><text transform="translate(480.85 137.79) rotate(5.05) scale(0.35)" text-anchor="start" y="3.4">Fusarium oxysporum T6I-3-2</text><text transform="translate(480.03 143.78) rotate(10.42) scale(0.35)" text-anchor="start" y="3.4">Fusarium solani MyH25018-2-1</text><text transform="translate(478.66 149.68) rotate(15.79) scale(0.35)" text-anchor="start" y="3.4">JF13</text><text transform="translate(476.75 155.42) rotate(21.16) scale(0.35)" text-anchor="start" y="3.4">Fusarium solani 02</text><text transform="translate(474.3 160.95) rotate(26.53) scale(0.35)" text-anchor="start" y="3.4">JF8</text><text transform="translate(471.35 166.23) rotate(31.89) scale(0.35)" text-anchor="start" y="3.4">Fusarium solani Mn6</text><text transform="translate(467.91 171.21) rotate(37.26) scale(0.35)" text-anchor="start" y="3.4">F63</text><text transform="translate(464.03 175.85) rotate(42.63) scale(0.35)" text-anchor="start" y="3.4">Fusarium sp. BBSA43</text><text transform="translate(459.73 180.11) rotate(48) scale(0.35)" text-anchor="start" y="3.4">Fusarium sp. GFS-3</text><text transform="translate(455.04 183.94) rotate(53.37) scale(0.35)" text-anchor="start" y="3.4">JF72</text><text transform="translate(450.03 187.32) rotate(58.74) scale(0.35)" text-anchor="start" y="3.4">Fusarium solani M5</text><text transform="translate(444.71 190.21) rotate(64.11) scale(0.35)" text-anchor="start" y="3.4">Fusarium sp. NCL2017lbe</text><text transform="translate(439.15 192.6) rotate(69.47) scale(0.35)" text-anchor="start" y="3.4">Fusarium sp. Litobasp4Mar17-0</text><text transform="translate(433.39 194.45) rotate(74.84) scale(0.35)" text-anchor="start" y="3.4">Fusarium equiseti MGJ2.3</text><text transform="translate(427.48 195.76) rotate(80.21) scale(0.35)" text-anchor="start" y="3.4">Fusarium sp. ILJF17-2U</text><text transform="translate(421.48 196.51) rotate(85.58) scale(0.35)" text-anchor="start" y="3.4">JF58</text><text transform="translate(415.43 196.69) rotate(270.95) scale(0.35)" text-anchor="end" y="3.4">Fusarium sp. DH0</text><text transform="translate(409.39 196.31) rotate(276.32) scale(0.35)" text-anchor="end" y="3.4">Fusarium oxysporum 2MX1.2</text><text transform="translate(403.55 195.39) rotate(281.56) scale(0.35)" text-anchor="end" y="3.4">TF25</text><text transform="translate(397.96 193.98) rotate(286.68) scale(0.35)" text-anchor="end" y="3.4">Trichoderma citrinoviride THBP19</text><text transform="translate(392.51 192.08) rotate(291.8) scale(0.35)" text-anchor="end" y="3.4">Trichoderma sp. F15</text><text transform="translate(387.25 189.7) rotate(296.92) scale(0.35)" text-anchor="end" y="3.4">Trichoderma sp. F18</text><text transform="translate(382.23 186.86) rotate(302.04) scale(0.35)" text-anchor="end" y="3.4">Trichoderma harzianum Hr24</text><text transform="translate(377.48 183.58) rotate(307.16) scale(0.35)" text-anchor="end" y="3.4">Trichoderma sp. IBL7</text><text transform="translate(373.04 179.9) rotate(312.28) scale(0.35)" text-anchor="end" y="3.4">Trichoderma citrinoviride F15</text><text transform="translate(368.95 175.83) rotate(317.4) scale(0.35)" text-anchor="end" y="3.4">Trichoderma citrinoviride F44</text><text transform="translate(365.24 171.41) rotate(322.52) scale(0.35)" text-anchor="end" y="3.4">Trichoderma harzianum Thz6</text><text transform="translate(361.93 166.68) rotate(327.64) scale(0.35)" text-anchor="end" y="3.4">Trichoderma citrinoviride INBTU01</text><text transform="translate(358.95 161.45) rotate(332.98) scale(0.35)" text-anchor="end" y="3.4">TF17</text><text transform="translate(356.38 155.73) rotate(338.54) scale(0.35)" text-anchor="end" y="3.4">Cercophora sp. UASWS2187</text><text transform="translate(354.37 149.8) rotate(344.1) scale(0.35)" text-anchor="end" y="3.4">Cercophora sp. TMG-2771</text><text transform="translate(352.95 143.69) rotate(349.66) scale(0.35)" text-anchor="end" y="3.4">Cercophora sp. IN61</text><text transform="translate(352.12 137.48) rotate(355.22) scale(0.35)" text-anchor="end" y="3.4">Cercophora caudata CBS 606.72</text><text transform="translate(351.91 131.23) rotate(360.77) scale(0.35)" text-anchor="end" y="3.4">Inermisia fuscoatra MN-Z.</text><text transform="translate(352.29 124.98) rotate(366.32) scale(0.35)" text-anchor="end" y="3.4">F50</text><text transform="translate(353.28 118.81) rotate(371.88) scale(0.35)" text-anchor="end" y="3.4">Humicola sp. Gp321</text><text transform="translate(354.86 112.76) rotate(377.43) scale(0.35)" text-anchor="end" y="3.4">Humicola sphaeralis SFC101</text><text transform="translate(357.02 106.88) rotate(382.98) scale(0.35)" text-anchor="end" y="3.4">Humicola variabilis CBS</text><text transform="translate(359.74 101.25) rotate(388.52) scale(0.35)" text-anchor="end" y="3.4">Humicola fuscoatra CBS</text></g>
</g>
<g font-family='"Liberation Sans", sans-serif' font-size="8.6" letter-spacing="0.6" fill="#222"><text x="6.5" y="15">(A)</text><text x="302.8" y="15">(B)</text></g>
<g font-family='"Liberation Sans", sans-serif' font-size="7.9" letter-spacing="0.85" fill="#2a2a2a">
<rect x="4" y="272.4" width="9" height="4.8" fill="#efc8cc"/>
<text x="17.6" y="277">Enterobacter</text>
<rect x="4" y="284.2" width="9" height="4.8" fill="#efc27c"/>
<text x="17.6" y="288.8">Klebsiella</text>
<rect x="4" y="296" width="9" height="4.8" fill="#f3a1a6"/>
<text x="17.6" y="300.6">Pantoea</text>
<rect x="4" y="307.8" width="9" height="4.8" fill="#8cc2c2"/>
<text x="17.6" y="312.4">Acinetobacter</text>
<rect x="4" y="319.6" width="9" height="4.8" fill="#a9dfbb"/>
<text x="17.6" y="324.2">Achromobacter</text>
<rect x="99" y="272.4" width="9" height="4.8" fill="#f98c80"/>
<text x="112.6" y="277">Castellaniella</text>
<rect x="99" y="284.2" width="9" height="4.8" fill="#fbd6da"/>
<text x="112.6" y="288.8">Stenotrophomonas</text>
<rect x="99" y="296" width="9" height="4.8" fill="#8fc4e6"/>
<text x="112.6" y="300.6">Pseudoxanthomonas</text>
<rect x="99" y="307.8" width="9" height="4.8" fill="#7b95be"/>
<text x="112.6" y="312.4">Methylobacterium</text>
<rect x="99" y="319.6" width="9" height="4.8" fill="#c4c3e7"/>
<text x="112.6" y="324.2">Kaistia</text>
<rect x="209" y="272.4" width="9" height="4.8" fill="#73a5cc"/>
<text x="223" y="277">Brevundimonas</text>
<rect x="209" y="284.2" width="9" height="4.8" fill="#f4c8a6"/>
<text x="223" y="288.8">Streptomyces</text>
<rect x="209" y="296" width="9" height="4.8" fill="#dedefa"/>
<text x="223" y="300.6">Microbacterium</text>
<rect x="209" y="307.8" width="9" height="4.8" fill="#6fd4e4"/>
<text x="223" y="312.4">Arthrobacter</text>
<rect x="209" y="319.6" width="9" height="4.8" fill="#13c5b1"/>
<text x="223" y="324.2">Bacillus</text>
</g>
<g font-family='"Liberation Sans", sans-serif' font-size="7.5" letter-spacing="1" fill="#2a2a2a">
<rect x="381" y="274.6" width="9" height="4.8" fill="#f0c37b"/>
<text x="396.2" y="279.5">Trichoderma</text>
<rect x="381" y="286" width="9" height="4.8" fill="#eec9c9"/>
<text x="396.2" y="290.9">Cercophora</text>
<rect x="381" y="297.4" width="9" height="4.8" fill="#dedefa"/>
<text x="396.2" y="302.3">Humicola</text>
<rect x="381" y="308.8" width="9" height="4.8" fill="#fc9284"/>
<text x="396.2" y="313.7">Aspergillus</text>
<rect x="381" y="320.2" width="9" height="4.8" fill="#6bd2e8"/>
<text x="396.2" y="325.1" letter-spacing="0.4">Mucor</text>
</g>
</svg></body></html>
